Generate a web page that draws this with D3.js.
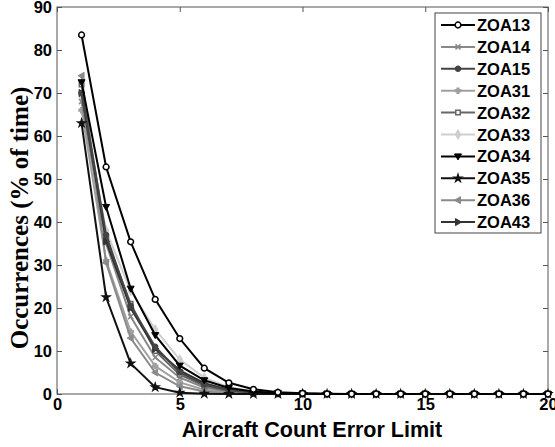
<!DOCTYPE html>
<html>
<head>
<meta charset="utf-8">
<script src="https://cdn.jsdelivr.net/npm/d3@7"></script>
<style>
body { margin: 0; background: #fff; }
</style>
</head>
<body>
<div id="chart"></div>
<script>
var xs = [1,2,3,4,5,6,7,8,9,10,11,12,13,14,15,16,17,18,19,20];
var names = ["ZOA13","ZOA14","ZOA15","ZOA31","ZOA32","ZOA33","ZOA34","ZOA35","ZOA36","ZOA43"];

var zoa13 = [83.5,52.8,35.4,22.0,12.9,6.0,2.6,1.1,0.4,0.15,0.05,0,0,0,0,0,0,0,0,0];
var zoa14 = [68,35,18,8.5,3.8,1.5,0.6,0.2,0.1,0,0,0,0,0,0,0,0,0,0,0];
var zoa15 = [70,37,20.5,11,5,2.2,0.9,0.3,0.1,0,0,0,0,0,0,0,0,0,0,0];
var zoa31 = [66,31,14.5,6.5,2.7,1,0.4,0.1,0,0,0,0,0,0,0,0,0,0,0,0];
var zoa32 = [72,36,21,10,4.5,1.9,0.7,0.2,0.1,0,0,0,0,0,0,0,0,0,0,0];
var zoa33 = [69,38,24,15,8,3.8,1.6,0.6,0.2,0.05,0,0,0,0,0,0,0,0,0,0];
var zoa34 = [72.5,43.5,24.5,13.7,6.6,3.2,1.4,0.6,0.2,0.1,0,0,0,0,0,0,0,0,0,0];
var zoa35 = [63,22.5,7.1,1.6,0.3,0.05,0,0,0,0,0,0,0,0,0,0,0,0,0,0];
var zoa36 = [74,30.5,13,5,1.8,0.6,0.2,0.1,0,0,0,0,0,0,0,0,0,0,0,0];
var zoa43 = [70,35.5,20,10.5,5.5,2.5,1,0.4,0.1,0,0,0,0,0,0,0,0,0,0,0];

var values = [zoa13,zoa14,zoa15,zoa31,zoa32,zoa33,zoa34,zoa35,zoa36,zoa43];
var colors = ["#000","#888","#444","#a0a0a0","#666","#cfcfcf","#000","#111","#8a8a8a","#333"];
var markers = ["circleOpen","cross","circle","plus","squareOpen","diamond","triDown","star","triLeft","triRight"];

var xTicks = [0,5,10,15,20];
var yTicks = [0,10,20,30,40,50,60,70,80,90];

var W = 555, H = 447;
var margin = {top: 7, right: 7, bottom: 53, left: 57};
var w = W - margin.left - margin.right;
var h = H - margin.top - margin.bottom;

var svg = d3.select("#chart").append("svg")
    .attr("width", W).attr("height", H);
var g = svg.append("g")
    .attr("transform", "translate(" + margin.left + "," + margin.top + ")");

var x = d3.scaleLinear().domain([0,20]).range([0,w]);
var y = d3.scaleLinear().domain([0,90]).range([h,0]);

// frame
g.append("rect").attr("x",0).attr("y",0).attr("width",w).attr("height",h)
  .attr("fill","none").attr("stroke","#555").attr("stroke-width",1);

var font = "'Liberation Sans', Arial, sans-serif";

// y axis
var yAxis = g.append("g").call(d3.axisLeft(y).tickValues(yTicks).tickSize(-5).tickPadding(5));
yAxis.select(".domain").remove();
yAxis.selectAll("line").attr("stroke","#555");
yAxis.selectAll("text").attr("font-family",font).attr("font-weight","bold")
  .attr("font-size","16.5px").attr("fill","#000");

var yAxisR = g.append("g").attr("transform","translate("+w+",0)")
  .call(d3.axisRight(y).tickValues(yTicks).tickSize(-5).tickFormat(""));
yAxisR.select(".domain").remove();
yAxisR.selectAll("line").attr("stroke","#555");

// x axis
var xAxis = g.append("g").attr("transform","translate(0,"+h+")")
  .call(d3.axisBottom(x).tickValues(xTicks).tickSize(-5).tickPadding(4));
xAxis.select(".domain").remove();
xAxis.selectAll("line").attr("stroke","#555");
xAxis.selectAll("text").attr("font-family",font).attr("font-weight","bold")
  .attr("font-size","16.5px").attr("fill","#000");

var xAxisT = g.append("g").call(d3.axisTop(x).tickValues(xTicks).tickSize(-5).tickFormat(""));
xAxisT.select(".domain").remove();
xAxisT.selectAll("line").attr("stroke","#555");

// axis titles
svg.append("text")
  .attr("x", 312).attr("y", 437)
  .attr("text-anchor","middle")
  .attr("font-family",font).attr("font-weight","bold").attr("font-size","21.5px")
  .text("Aircraft Count Error Limit");

svg.append("text")
  .attr("transform","translate(28,218) rotate(-90)")
  .attr("text-anchor","middle")
  .attr("font-family","'Liberation Serif', 'Times New Roman', serif")
  .attr("font-weight","bold").attr("font-size","25px")
  .text("Occurrences (% of time)");

// marker drawing
function drawMarker(sel, type, color) {
  var sym = null, fill = color, stroke = color, size = 18;
  if (type === "circleOpen") { sym = d3.symbolCircle; fill = "#fff"; size = 26; }
  else if (type === "circle") { sym = d3.symbolCircle; size = 20; }
  else if (type === "cross") { sym = d3.symbolX; fill = "none"; size = 18; }
  else if (type === "plus") { sym = d3.symbolCross; size = 14; }
  else if (type === "squareOpen") { sym = d3.symbolSquare; fill = "#fff"; size = 20; }
  else if (type === "diamond") { sym = d3.symbolDiamond; size = 20; }
  else if (type === "star") { sym = d3.symbolStar; size = 16; }
  if (sym) {
    sel.append("path").attr("d", d3.symbol().type(sym).size(size)())
      .attr("fill", fill).attr("stroke", stroke).attr("stroke-width", 1.5);
  } else {
    var pts;
    if (type === "triDown") pts = "-3.5,-2.5 3.5,-2.5 0,3.5";
    else if (type === "triLeft") pts = "-3.5,0 2.5,-3.5 2.5,3.5";
    else pts = "3.5,0 -2.5,-3.5 -2.5,3.5";
    sel.append("polygon").attr("points", pts).attr("fill", color)
      .attr("stroke", color).attr("stroke-width", 1);
  }
}

var line = d3.line().x(function(d, i) { return x(xs[i]); }).y(function(d) { return y(d); });

// draw lighter series first so dark ones stay on top
var order = [5,3,1,8,4,9,2,7,6,0];
order.forEach(function(k) {
  var s = g.append("g");
  s.append("path").datum(values[k]).attr("d", line)
    .attr("fill","none").attr("stroke",colors[k]).attr("stroke-width",2);
  s.selectAll("g.m").data(values[k]).enter().append("g").attr("class","m")
    .attr("transform", function(d, i) { return "translate(" + x(xs[i]) + "," + y(d) + ")"; })
    .each(function() { drawMarker(d3.select(this), markers[k], colors[k]); });
});

// legend
var lg = svg.append("g").attr("transform","translate(435,13)");
lg.append("rect").attr("x",0).attr("y",0).attr("width",106).attr("height",220)
  .attr("fill","#fff").attr("stroke","#444").attr("stroke-width",1);
names.forEach(function(n, k) {
  var row = lg.append("g").attr("transform","translate(0," + (12 + k*21.9) + ")");
  row.append("line").attr("x1",6).attr("x2",40).attr("y1",0).attr("y2",0)
    .attr("stroke",colors[k]).attr("stroke-width",2);
  var m = row.append("g").attr("transform","translate(23,0)");
  drawMarker(m, markers[k], colors[k]);
  row.append("text").attr("x",42).attr("y",6)
    .attr("font-family",font).attr("font-weight","bold").attr("font-size","16.5px")
    .text(n);
});
</script>
</body>
</html>
